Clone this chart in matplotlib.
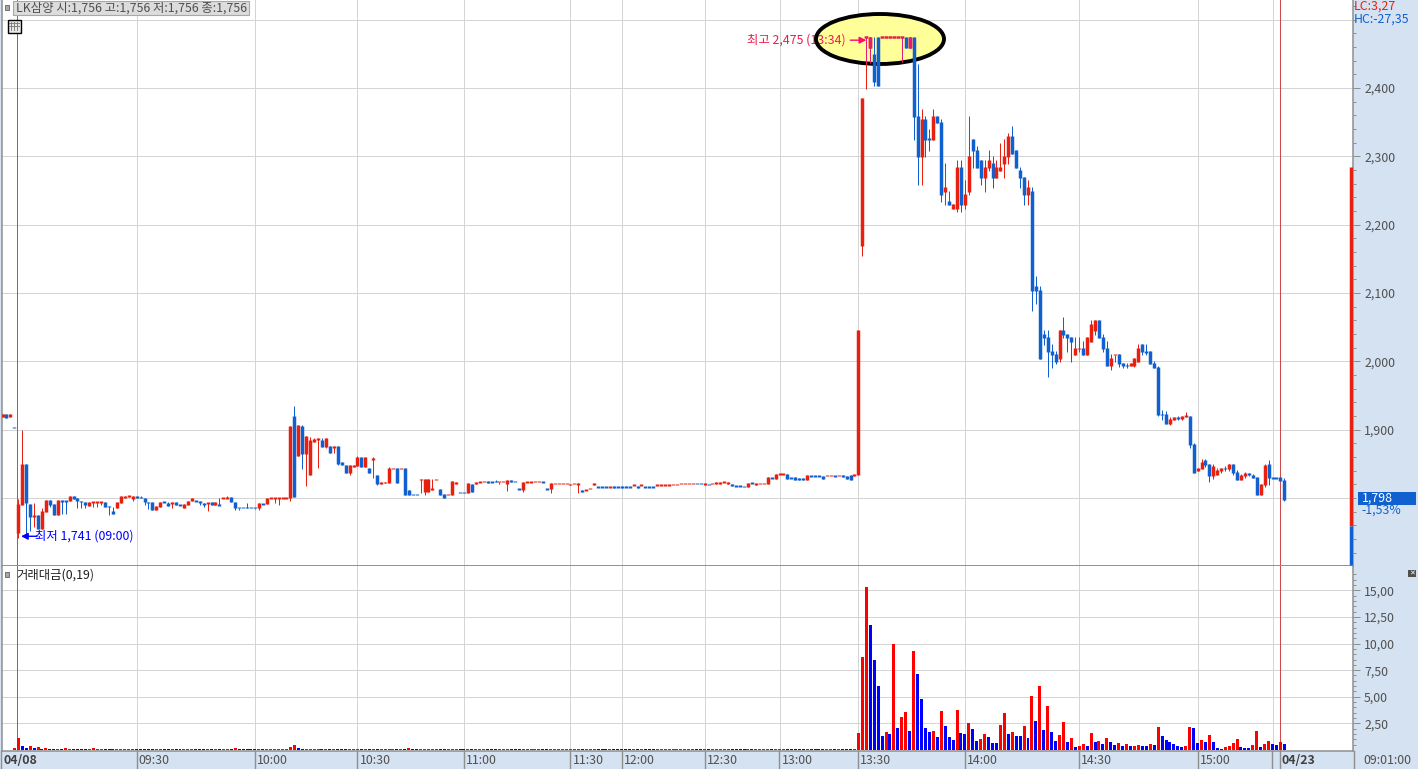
import matplotlib
matplotlib.use('Agg')
import matplotlib.pyplot as plt
from matplotlib.patches import Ellipse, Rectangle
from matplotlib.lines import Line2D
from matplotlib.transforms import Affine2D
import numpy as np

plt.rcParams['font.family'] = ['Noto Sans CJK KR', 'DejaVu Sans']

# first four candles belong to the previous session (04/08 starts at index 0)
opens = [1919,1923,1919,1903,
    1749,1790,1850,1791,1772,1775,1754,1780,1797,1791,
    1775,1797,1796,1795,1803,1800,1796,1794,1788,1794,
    1794,1794,1794,1788,1781,1785,1793,1800,1802,1799,
    1803,1801,1800,1794,1794,1782,1787,1794,1792,1791,
    1794,1790,1785,1790,1796,1796,1796,1793,1793,1794,
    1790,1790,1800,1800,1801,1794,1786,1786,1786,1786,
    1786,1785,1791,1791,1800,1800,1800,1800,1800,1800,
    1920,1861,1905,1864,1834,1882,1885,1885,1875,1876,
    1873,1876,1852,1848,1836,1845,1847,1860,1845,1844,
    1856,1834,1820,1822,1822,1843,1844,1843,1844,1811,
    1805,1805,1826,1809,1809,1813,1827,1813,1806,1805,
    1804,1820,1808,1808,1807,1820,1820,1823,1824,1825,
    1823,1824,1824,1824,1820,1826,1824,1813,1812,1823,
    1823,1824,1824,1823,1813,1813,1821,1821,1821,1821,
    1819,1821,1819,1812,1812,1814,1819,1816,1816,1816,
    1816,1818,1816,1818,1816,1816,1819,1818,1819,1816,
    1816,1816,1819,1819,1819,1819,1820,1820,1821,1821,
    1821,1821,1821,1821,1819,1820,1821,1820,1820,1823,
    1820,1820,1818,1818,1817,1816,1822,1819,1821,1821,
    1821,1829,1828,1835,1835,1835,1829,1831,1829,1829,
    1826,1832,1832,1832,1832,1833,1833,1832,1833,1834,
    1832,1834,1832,1834,2169,2474,2474,2450,2403,2475,
    2475,2475,2475,2475,2474,2474,2458,2474,2359,2299,
    2355,2325,2324,2359,2350,2248,2235,2223,2223,2284,
    2229,2248,2325,2309,2295,2268,2283,2290,2268,2278,
    2289,2299,2330,2309,2280,2270,2243,2249,2110,2104,
    2040,2036,2015,2011,2003,2046,2040,2036,2009,2019,
    2020,2009,2028,2044,2060,2036,2020,1993,2010,2011,
    1998,1994,1993,1993,1999,2025,2014,2015,1998,1992,
    1922,1923,1908,1914,1919,1916,1919,1920,1879,1840,
    1842,1856,1850,1832,1834,1840,1843,1842,1850,1838,
    1826,1832,1836,1834,1831,1804,1819,1850,1829,1829,1831,1826]
highs = [1923,1923,1923,1903,
    1799,1900,1850,1791,1792,1775,1785,1797,1797,1791,
    1797,1797,1796,1803,1803,1800,1796,1794,1794,1794,
    1794,1794,1794,1788,1787,1794,1803,1803,1803,1803,
    1803,1803,1800,1794,1794,1788,1794,1794,1794,1794,
    1794,1790,1791,1796,1800,1796,1796,1793,1793,1794,
    1794,1800,1800,1803,1801,1794,1786,1786,1792,1786,
    1786,1793,1791,1800,1800,1800,1800,1800,1800,1905,
    1935,1907,1907,1891,1889,1888,1888,1888,1888,1876,
    1876,1876,1852,1848,1848,1848,1861,1860,1860,1844,
    1860,1834,1823,1823,1845,1843,1844,1843,1844,1811,
    1805,1805,1828,1828,1828,1828,1827,1813,1806,1805,
    1825,1823,1808,1808,1822,1821,1823,1824,1824,1825,
    1823,1826,1824,1824,1826,1826,1824,1813,1823,1823,
    1823,1824,1824,1823,1813,1822,1821,1821,1821,1821,
    1821,1821,1822,1812,1812,1814,1822,1816,1816,1816,
    1816,1818,1816,1818,1818,1816,1819,1818,1819,1816,
    1816,1816,1819,1819,1819,1819,1820,1820,1821,1821,
    1821,1821,1821,1821,1822,1820,1821,1823,1823,1823,
    1823,1820,1818,1818,1817,1822,1822,1822,1821,1821,
    1831,1829,1835,1835,1835,1835,1829,1831,1829,1829,
    1834,1832,1832,1832,1832,1833,1833,1832,1833,1834,
    1832,1834,1835,2046,2385,2475,2475,2475,2474,2475,
    2475,2475,2475,2475,2475,2475,2474,2475,2435,2369,
    2359,2340,2369,2359,2355,2290,2249,2230,2295,2295,
    2265,2359,2325,2315,2295,2295,2309,2300,2295,2319,
    2325,2334,2344,2309,2284,2270,2265,2255,2125,2110,
    2046,2046,2025,2015,2046,2065,2040,2036,2036,2036,
    2030,2036,2060,2060,2060,2040,2030,2011,2010,2011,
    1998,1998,1998,2005,2025,2025,2025,2015,2000,1993,
    1929,1927,1919,1919,1920,1920,1926,1920,1880,1844,
    1857,1857,1850,1850,1844,1844,1847,1850,1850,1841,
    1835,1838,1836,1835,1831,1820,1850,1856,1829,1829,1831,1829]
lows = [1919,1917,1919,1903,
    1741,1790,1748,1752,1757,1754,1754,1780,1787,1775,
    1775,1776,1776,1795,1799,1785,1785,1785,1788,1787,
    1787,1790,1787,1775,1777,1785,1793,1800,1802,1796,
    1800,1800,1790,1784,1782,1782,1787,1794,1789,1785,
    1790,1790,1785,1790,1796,1796,1790,1787,1781,1790,
    1790,1790,1800,1800,1794,1782,1782,1786,1786,1786,
    1784,1782,1791,1791,1800,1792,1790,1800,1800,1796,
    1801,1861,1842,1818,1834,1882,1844,1875,1873,1866,
    1866,1848,1848,1836,1834,1845,1847,1845,1845,1836,
    1829,1819,1820,1822,1822,1843,1822,1843,1804,1804,
    1805,1805,1807,1804,1809,1812,1827,1804,1800,1805,
    1804,1820,1808,1808,1807,1809,1820,1823,1824,1822,
    1823,1824,1820,1824,1810,1823,1824,1813,1809,1823,
    1823,1824,1824,1823,1813,1807,1821,1821,1821,1821,
    1819,1821,1807,1809,1812,1814,1819,1816,1816,1816,
    1816,1815,1816,1815,1816,1816,1819,1815,1819,1816,
    1816,1816,1819,1819,1819,1819,1820,1820,1821,1821,
    1821,1821,1821,1821,1819,1820,1821,1820,1820,1823,
    1820,1817,1818,1818,1817,1816,1822,1819,1821,1821,
    1821,1829,1828,1835,1835,1828,1829,1826,1826,1826,
    1826,1832,1832,1832,1828,1833,1833,1832,1833,1831,
    1828,1826,1832,1834,2154,2399,2436,2403,2403,2475,
    2475,2475,2475,2475,2438,2458,2458,2324,2258,2258,
    2299,2308,2324,2349,2233,2229,2229,2223,2218,2218,
    2223,2243,2283,2283,2258,2248,2278,2254,2268,2278,
    2268,2289,2303,2283,2254,2229,2229,2074,2084,2003,
    2024,1977,1990,1996,1999,2034,2014,1999,2009,2014,
    2009,2009,2028,2038,2034,2014,1993,1987,1999,1992,
    1990,1990,1993,1992,1999,2009,2009,1996,1990,1920,
    1914,1908,1907,1914,1914,1914,1919,1873,1837,1840,
    1842,1845,1823,1828,1834,1836,1840,1840,1834,1826,
    1826,1829,1832,1829,1804,1804,1816,1819,1829,1829,1825,1796]
closes = [1923,1917,1923,1903,
    1791,1850,1792,1772,1775,1754,1781,1797,1790,1775,
    1797,1794,1795,1803,1799,1796,1794,1790,1794,1794,
    1794,1794,1787,1787,1777,1794,1803,1803,1803,1803,
    1800,1801,1794,1793,1782,1788,1794,1794,1789,1794,
    1790,1790,1791,1796,1800,1796,1793,1790,1793,1790,
    1794,1790,1800,1800,1794,1785,1786,1786,1786,1786,
    1786,1793,1791,1800,1800,1800,1800,1800,1800,1905,
    1801,1907,1864,1891,1885,1886,1888,1875,1888,1866,
    1876,1850,1848,1836,1848,1848,1860,1845,1860,1836,
    1858,1820,1823,1823,1844,1843,1822,1843,1804,1804,
    1805,1805,1828,1828,1828,1813,1827,1804,1800,1805,
    1825,1823,1808,1808,1822,1809,1823,1824,1824,1822,
    1823,1824,1824,1824,1826,1823,1824,1813,1823,1823,
    1823,1824,1824,1823,1813,1822,1821,1821,1821,1821,
    1821,1821,1822,1809,1812,1814,1822,1816,1816,1816,
    1816,1815,1816,1815,1816,1816,1819,1815,1819,1816,
    1816,1816,1819,1819,1819,1819,1820,1820,1821,1821,
    1821,1821,1821,1821,1822,1820,1821,1823,1823,1823,
    1823,1817,1818,1818,1817,1822,1822,1822,1821,1821,
    1831,1829,1835,1835,1835,1828,1829,1826,1826,1826,
    1834,1832,1832,1832,1828,1833,1833,1832,1833,1831,
    1828,1826,1835,2046,2385,2475,2458,2409,2474,2475,
    2475,2475,2475,2475,2475,2458,2474,2357,2299,2355,
    2324,2325,2359,2349,2243,2255,2229,2230,2284,2229,
    2245,2300,2308,2283,2268,2284,2295,2268,2284,2284,
    2300,2330,2303,2283,2268,2243,2255,2103,2103,2003,
    2034,2014,2009,1999,2046,2039,2034,2028,2020,2019,
    2009,2036,2055,2060,2034,2018,1993,2005,2010,1996,
    1993,1994,1998,2005,2020,2014,2014,1996,1990,1921,
    1922,1908,1916,1919,1916,1920,1922,1878,1837,1844,
    1853,1848,1832,1847,1841,1844,1843,1850,1837,1826,
    1834,1836,1834,1829,1804,1820,1848,1829,1829,1829,1825,1797]
sides = ("rbrb"
    "rrbbrbrrbb" "rbbrbbbbrr" "rrbbbrrrrr" "bbbbbrrbbr" "bbrrrbbbrb"
    "rbrrbbbbbb" "brbrrrrrrr" "brbrrrrbrb" "rbbbrrrbrb" "rbrrrrbrbb"
    "bbrrrrrbbr" "rrbbrbrrrb" "bbrrrbbbrr" "rrrbbrrrrr" "rrrbrrrbbb"
    "rbbbbbrbrb" "bbrrrrrrrr" "rrbbrbrrrr" "rbbbbrbrrr" "rbrrrbbbbb"
    "rbbbbrrbrb" "bbrrrrrbbr" "rrrrrbrbbr" "bbrbbrbrrb" "rrbbbrrbrr"
    "rrbbbbrbbb" "bbbbrbbbrr" "brrrbbbrrb" "bbrrrbbbbb" "bbrrbrrbbr"
    "rbbrrrbrbb" "rrbbbrrbbbbb")

volumes = [.05,.05,.05,.19,
    1.13,.38,.19,.38,.19,.28,.1,.19,.08,.08,
    .08,.08,.19,.08,.08,.08,.08,.08,.08,.19,
    .08,.08,.08,.08,.08,.08,.08,.08,.08,.08,
    .08,.08,.08,.08,.08,.08,.08,.08,.08,.08,
    .08,.08,.08,.08,.08,.08,.08,.08,.08,.08,
    .08,.08,.08,.08,.08,.19,.08,.08,.08,.08,
    .08,.08,.08,.08,.08,.08,.08,.08,.08,.28,
    .47,.19,.08,.08,.08,.08,.08,.08,.08,.08,
    .08,.08,.08,.08,.08,.08,.08,.08,.08,.08,
    .08,.08,.08,.08,.08,.08,.08,.08,.08,.15,
    .08,.08,.08,.08,.08,.08,.08,.08,.08,.08,
    .08,.08,.08,.08,.08,.08,.08,.08,.08,.08,
    .08,.08,.08,.08,.08,.08,.08,.08,.08,.08,
    .08,.08,.08,.08,.08,.08,.08,.08,.08,.08,
    .08,.08,.08,.08,.08,.08,.08,.08,.08,.08,
    .08,.08,.08,.08,.08,.08,.08,.08,.08,.08,
    .08,.08,.08,.08,.08,.08,.08,.08,.08,.08,
    .08,.08,.08,.08,.08,.08,.08,.08,.08,.08,
    .08,.08,.08,.08,.08,.08,.08,.08,.08,.08,
    .08,.08,.08,.1,.08,.08,.08,.08,.08,.08,
    .08,.08,.08,.08,.08,.08,.08,.08,.08,.08,
    .08,.08,.08,
    1.6,8.7,15.3,11.7,8.45,6.0,1.3,1.7,1.5,9.95,
    2.07,3.1,3.57,1.78,9.3,7.14,4.8,2.07,1.7,1.78,
    1.2,3.66,2.25,1.2,.94,3.76,1.6,1.5,2.54,1.97,
    .85,1.03,1.5,1.2,.66,.66,2.35,3.47,1.5,1.7,
    1.3,1.3,2.25,1.13,5.07,2.72,6.0,1.88,4.13,1.7,
    .85,1.4,2.63,.75,1.13,.28,.38,.56,.38,1.6,
    .75,.85,.56,1.13,.75,.47,.66,.38,.56,.38,
    .38,.47,.38,.38,.56,.47,2.16,1.31,.94,.75,
    .56,.38,.28,.38,2.16,2.07,.66,.94,.75,1.4,
    .75,.19,.1,.28,.38,.66,1.03,.28,.19,.19,
    .47,1.78,.28,.56,.85,.56,.47,.75,.56]
vol_sides = ("rbrr"
    "rbbrbrbrbb" "rbrrbbbbrr" "rrbbbrrrrr" "bbbbbrrbbr" "bbrrrbbbrb"
    "rbrrbrbbbb" "brbrrrrrrr" "rbbrrrrbrb" "rbbbrrrbrb" "rbrrrrbrbr"
    "bbrrrrrbbr" "rrbbrbrrrb" "bbrrrbbbrr" "rrrbbrrrrr" "rrrbrrrbbb"
    "rbbbbbrbrb" "bbrrrrrrrr" "rrbbrbrrrr" "rbbbbrbrrr" "rbrrrbbbbb"
    "rbbbbrrbrb" "bbr"
    "rrrbbbbrbr" "brrbrbbbbr" "brbbbrbbrb" "brrbbbrrbr" "bbrbrbrbrb"
    "brrbrbrrbr" "brbrbbrbrb" "rrbbrbrbbb" "bbbrrbbrbr" "bbbrrrrbbb"
    "rrbrrbbrb")

price_ticks = [1900, 2000, 2100, 2200, 2300, 2400]
price_labels = ['1,900', '2,000', '2,100', '2,200', '2,300', '2,400']
price_grid = [1800, 1900, 2000, 2100, 2200, 2300, 2400, 2500]
vol_ticks = [2.5, 5, 7.5, 10, 12.5, 15]
vol_labels = ['2,50', '5,00', '7,50', '10,00', '12,50', '15,00']
time_ticks = [30, 60, 86, 113, 140, 153, 174, 193, 213, 240, 269, 299, 318]
time_labels = ['09:30', '10:00', '10:30', '11:00', '11:30', '12:00', '12:30',
               '13:00', '13:30', '14:00', '14:30', '15:00', '']
date_ticks = [-0.25, 320]
date_labels = ['04/08', '04/23']
# red/blue gauge along the right edge of the price panel
gauge_red = [1759, 2284]
gauge_blue = [1702, 1759]

RED, BLUE = '#e8200f', '#1060d0'
PINK = '#ea1a6e'
GRID = '#d4d4d4'
EDGE = '#8f8f8f'
BAND = '#d5e2f1'
TEXT = '#505050'
FS = 8.9
THIN = 0.72   # one pixel at dpi 100
BODY = 2.5    # snaps to three pixels

fig = plt.figure(figsize=(14.18, 7.69), dpi=100, facecolor=BAND)
W, H = 1418, 769
# pixel coords, origin top left, for the decoration
px = Affine2D().scale(1, -1).translate(0, H)


def make_ax(x0, y0, x1, y1):
    return fig.add_axes([x0 / W, 1 - y1 / H, (x1 - x0) / W, (y1 - y0) / H])


ax = make_ax(2, 0, 1353, 566)
ax2 = make_ax(2, 566, 1353, 751)
xlim = (-4.13, 338.4)
for a in (ax, ax2):
    a.set_xlim(*xlim)
    a.set_facecolor('white')
    a.set_axisbelow(True)
    a.spines['top'].set_visible(False)
    for s in ('left', 'right', 'bottom'):
        a.spines[s].set_color(EDGE)
        a.spines[s].set_linewidth(1.1)
    a.yaxis.tick_right()
    a.set_xticks(time_ticks)
    a.tick_params(axis='x', labelbottom=False, length=0)
    a.grid(True, axis='x', color=GRID, lw=THIN)
    for d in date_ticks:
        a.axvline(d, color='#cc4a4a', lw=THIN, zorder=2.2)

# price panel
ax.set_ylim(1700.5, 2528.8)
ax.set_yticks(price_ticks)
ax.set_yticklabels(price_labels, color=TEXT, fontsize=FS)
ax.set_yticks(np.arange(1720, 2528, 20), minor=True)
ax.tick_params(axis='y', which='major', length=5, width=THIN, color=EDGE, pad=3)
ax.tick_params(axis='y', which='minor', length=2.5, width=THIN, color=EDGE)
for p in price_grid:
    ax.axhline(p, color=GRID, lw=THIN, zorder=0.5)
ax.spines['bottom'].set_linewidth(1.4)

idx = np.arange(len(opens)) - 4
o, h, l, c = map(np.array, (opens, highs, lows, closes))
side = np.array(list(sides))
cols = np.where(side == 'r', RED, BLUE)
mid = (o + c) / 2
half = np.maximum(np.abs(c - o), 2.4) / 2

ell_fill = Ellipse((880, 39), 128, 50, facecolor='#ffff99', edgecolor='none', transform=px, zorder=1.5, clip_on=False)
ell_edge = Ellipse((880, 39), 128, 50, facecolor='none', edgecolor='black', lw=2.8, transform=px, zorder=2.5, clip_on=False)
ax.add_patch(ell_fill)
ax.add_patch(ell_edge)

ax.vlines(idx, l, h, colors=cols, lw=THIN, zorder=3, snap=True)
ax.vlines(idx, mid - half, mid + half, colors=cols, lw=BODY, zorder=3.1, capstyle='butt', snap=True)
# red marks turn pink on the yellow highlight
is_red = side == 'r'
w1 = ax.vlines(idx[is_red], l[is_red], h[is_red], colors=PINK, lw=THIN, zorder=3.2, snap=True)
w2 = ax.vlines(idx[is_red], (mid - half)[is_red], (mid + half)[is_red], colors=PINK, lw=BODY, zorder=3.3,
               capstyle='butt', snap=True)
w1.set_clip_path(ell_fill)
w2.set_clip_path(ell_fill)

ax.vlines(337.8, gauge_red[0], gauge_red[1], colors=RED, lw=BODY, zorder=3, capstyle='butt', snap=True)
ax.vlines(337.8, gauge_blue[0], gauge_blue[1], colors=BLUE, lw=BODY, zorder=3, capstyle='butt', snap=True)

# high / low callouts
ax.text(846, 40, '최고 2,475 (13:34)', color='#ee1c4c', fontsize=FS, ha='right', va='center', transform=px, zorder=2.4)
ax.annotate('', xy=(215, 2470), xytext=(-16, 0), textcoords='offset pixels',
            arrowprops=dict(arrowstyle='-|>', color='#ff0a6c', lw=1, shrinkA=0, shrinkB=0), zorder=4)
ax.text(35, 536, '최저 1,741 (09:00)', color='#0000ff', fontsize=FS, ha='left', va='center', transform=px, zorder=4)
ax.annotate('', xy=(0.7, 1744), xytext=(16, 0), textcoords='offset pixels',
            arrowprops=dict(arrowstyle='-|>', color='#0000ff', lw=1, shrinkA=0, shrinkB=0), zorder=4)

# volume panel
ax2.set_ylim(-0.09, 17.28)
ax2.set_yticks(vol_ticks)
ax2.set_yticklabels(vol_labels, color=TEXT, fontsize=FS)
ax2.set_yticks(np.arange(0.5, 17, 0.5), minor=True)
ax2.tick_params(axis='y', which='major', length=5, width=THIN, color=EDGE, pad=3)
ax2.tick_params(axis='y', which='minor', length=2.5, width=THIN, color=EDGE)
ax2.grid(True, axis='y', color=GRID, lw=THIN)
vcols = ['#ff0000' if s == 'r' else '#0000ff' for s in vol_sides]
ax2.bar(idx, volumes, width=0.76, color=vcols, zorder=3, snap=True)

# bottom axis labels, left aligned beside their tick
for t, lab in zip(time_ticks, time_labels):
    ax2.annotate(lab, xy=(t, 0), xycoords=('data', 'axes fraction'), xytext=(2, -9), textcoords='offset pixels',
                 color=TEXT, fontsize=FS, ha='left', va='center', annotation_clip=False)
    fig.add_artist(Line2D([18.3 + 3.944 * t] * 2, [751, 769], transform=px, color=EDGE, lw=1))
for lx in (1, 1279.5, 1353.5):
    fig.add_artist(Line2D([lx, lx], [751, 769], transform=px, color=EDGE, lw=1))
fig.text(3, 760, date_labels[0], color='#404040', fontsize=FS, fontweight='bold', va='center', transform=px)
fig.text(1282, 760, date_labels[1], color='#404040', fontsize=FS, fontweight='bold', va='center', transform=px)
fig.text(1363, 760, '09:01:00', color=TEXT, fontsize=FS, va='center', transform=px)

# header strip, indicator label and small icons
fig.add_artist(Rectangle((13, 1), 236, 14, transform=px, facecolor='#dcdcdc', edgecolor='#a8a8a8', lw=0.8))
fig.text(16, 8, 'LK삼양 시:1,756 고:1,756 저:1,756 종:1,756', color=TEXT, fontsize=FS, va='center', transform=px)
fig.add_artist(Rectangle((5, 5), 4, 5, transform=px, facecolor='#a8a8a8', edgecolor='#707070', lw=0.7))
fig.add_artist(Rectangle((7.5, 19.5), 13, 13, transform=px, facecolor='#e8e8e8', edgecolor='black', lw=1))
for gx in (11, 14, 17):
    fig.add_artist(Line2D([gx, gx], [22, 30], transform=px, color='#808080', lw=0.7))
for gy in (23, 26):
    fig.add_artist(Line2D([9, 19], [gy, gy], transform=px, color='#808080', lw=0.7))
fig.add_artist(Rectangle((5, 572), 4, 5, transform=px, facecolor='#a8a8a8', edgecolor='#707070', lw=0.7))
fig.text(16, 575, '거래대금(0,19)', color='#202020', fontsize=FS, va='center', transform=px)
fig.add_artist(Rectangle((1408, 570), 8, 7, transform=px, facecolor='#505050', edgecolor='none'))
fig.text(1412, 573.5, '✕', color='white', fontsize=5, ha='center', va='center', transform=px)

# right margin readouts
fig.text(1354, 6, 'LC:3,27', color=RED, fontsize=FS, va='center', transform=px)
fig.text(1354, 19, 'HC:-27,35', color=BLUE, fontsize=FS, va='center', transform=px)
fig.add_artist(Rectangle((1358, 492), 58, 13, transform=px, facecolor=BLUE, edgecolor='none'))
fig.text(1362, 498, '1,798', color='white', fontsize=FS, va='center', transform=px)
fig.text(1361, 510, '-1,53%', color=BLUE, fontsize=FS, va='center', transform=px)

fig.savefig('out.png', dpi=100)
